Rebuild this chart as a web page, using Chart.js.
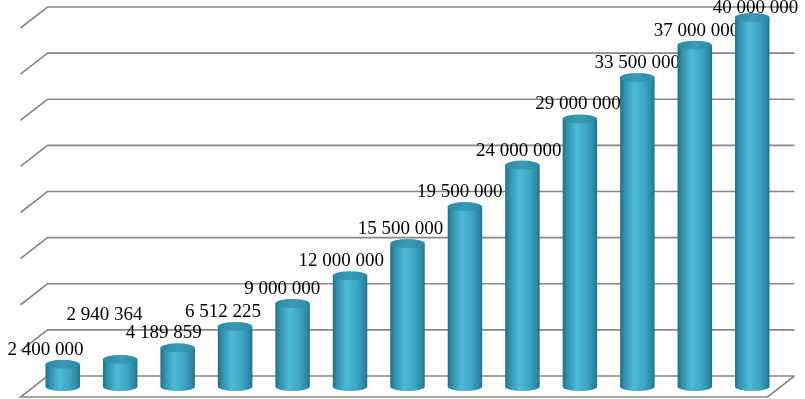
<!DOCTYPE html>
<html>
<head>
<meta charset="utf-8">
<script src="https://cdn.jsdelivr.net/npm/chart.js@4/dist/chart.umd.min.js"></script>
<style>
  html, body { margin: 0; padding: 0; background: #fff; }
  #wrap { width: 805px; height: 399px; }
</style>
</head>
<body>
<div id="wrap"><canvas id="chart" width="805" height="399"></canvas></div>
<script>
// Chart data
const categories = ['1', '2', '3', '4', '5', '6', '7', '8', '9', '10', '11', '12', '13'];
const values = [2400000, 2940364, 4189859, 6512225, 9000000, 12000000, 15500000,
  19500000, 24000000, 29000000, 33500000, 37000000, 40000000];
const axisMin = 0;
const axisMax = 40000000;
const axisStep = 5000000;

// depth of the fake 3D box (back wall is up/right of the bars)
const DEPTH_X = 27;
const DEPTH_Y = 21;

function fmt(n) {
  return String(n).replace(/\B(?=(\d{3})+(?!\d))/g, ' ');
}

// back wall grid + floor
const gridPlugin = {
  id: 'grid3d',
  beforeDatasetsDraw(chart) {
    const ctx = chart.ctx;
    const area = chart.chartArea;
    const y = chart.scales.y;
    const hx = DEPTH_X / 2, hy = DEPTH_Y / 2;
    ctx.save();
    ctx.strokeStyle = '#888888';
    ctx.lineWidth = 1.6;
    for (let v = axisMin; v <= axisMax; v += axisStep) {
      const yb = y.getPixelForValue(v) - hy;
      ctx.beginPath();
      ctx.moveTo(area.right + hx, yb);
      ctx.lineTo(area.left + hx, yb);
      ctx.lineTo(area.left - hx, yb + DEPTH_Y);
      if (v === axisMin) {
        ctx.lineTo(area.right - hx, yb + DEPTH_Y);
        ctx.lineTo(area.right + hx, yb);
      }
      ctx.stroke();
    }
    ctx.restore();
  }
};

// cylinders + value labels
const cylinderPlugin = {
  id: 'cylinders',
  afterDatasetsDraw(chart) {
    const ctx = chart.ctx;
    const area = chart.chartArea;
    const midX = (area.left + area.right) / 2;
    const meta = chart.getDatasetMeta(0);
    let prev = null;
    ctx.save();
    meta.data.forEach((bar, i) => {
      const w = bar.width;
      const rx = w / 2;
      const ry = 4.5;
      const x0 = bar.x - rx, x1 = bar.x + rx;
      const top = bar.y, base = bar.base;

      const g = ctx.createLinearGradient(x0, 0, x1, 0);
      g.addColorStop(0, '#216f86');
      g.addColorStop(0.12, '#2f8fab');
      g.addColorStop(0.4, '#4dbbd7');
      g.addColorStop(0.7, '#3da6c3');
      g.addColorStop(0.92, '#2d87a2');
      g.addColorStop(1, '#236f86');

      ctx.beginPath();
      ctx.moveTo(x0, top);
      ctx.lineTo(x0, base);
      ctx.ellipse(bar.x, base, rx, ry, 0, Math.PI, 0, true);
      ctx.lineTo(x1, top);
      ctx.closePath();
      ctx.fillStyle = g;
      ctx.fill();

      const gt = ctx.createLinearGradient(x0, top - ry, x1, top + ry);
      gt.addColorStop(0, '#2a86a0');
      gt.addColorStop(0.5, '#3a9cb8');
      gt.addColorStop(1, '#2b89a3');
      ctx.beginPath();
      ctx.ellipse(bar.x, top, rx, ry, 0, 0, Math.PI * 2);
      ctx.fillStyle = gt;
      ctx.fill();

      // label: slight perspective shift, lifted if it would hit the previous one
      ctx.font = '19px "Liberation Serif", "Times New Roman", serif';
      const text = fmt(values[i]);
      const tw = ctx.measureText(text).width;
      const cx = bar.x - 7 + (bar.x - midX) * 0.03;
      let by = Math.max(13, top - ry - 5);
      const capH = 13;
      if (prev && cx - tw / 2 < prev.right && by > prev.top && by - capH < prev.bottom) {
        by = prev.top - 22;
      }
      ctx.fillStyle = '#000';
      ctx.textAlign = 'center';
      ctx.textBaseline = 'alphabetic';
      ctx.fillText(text, cx, by);
      prev = { right: cx + tw / 2, top: by - capH, bottom: by };
    });
    ctx.restore();
  }
};

new Chart(document.getElementById('chart'), {
  type: 'bar',
  data: {
    labels: categories,
    datasets: [{
      data: values,
      backgroundColor: 'rgba(0,0,0,0)',
      borderWidth: 0,
      barPercentage: 0.6,
      categoryPercentage: 1
    }]
  },
  options: {
    responsive: false,
    animation: false,
    layout: { padding: { left: 34, right: 24, top: 17.5, bottom: 12.5 } },
    plugins: { legend: { display: false }, tooltip: { enabled: false } },
    scales: {
      x: { display: false },
      y: { display: false, min: axisMin, max: axisMax, ticks: { stepSize: axisStep } }
    }
  },
  plugins: [gridPlugin, cylinderPlugin]
});
</script>
</body>
</html>
